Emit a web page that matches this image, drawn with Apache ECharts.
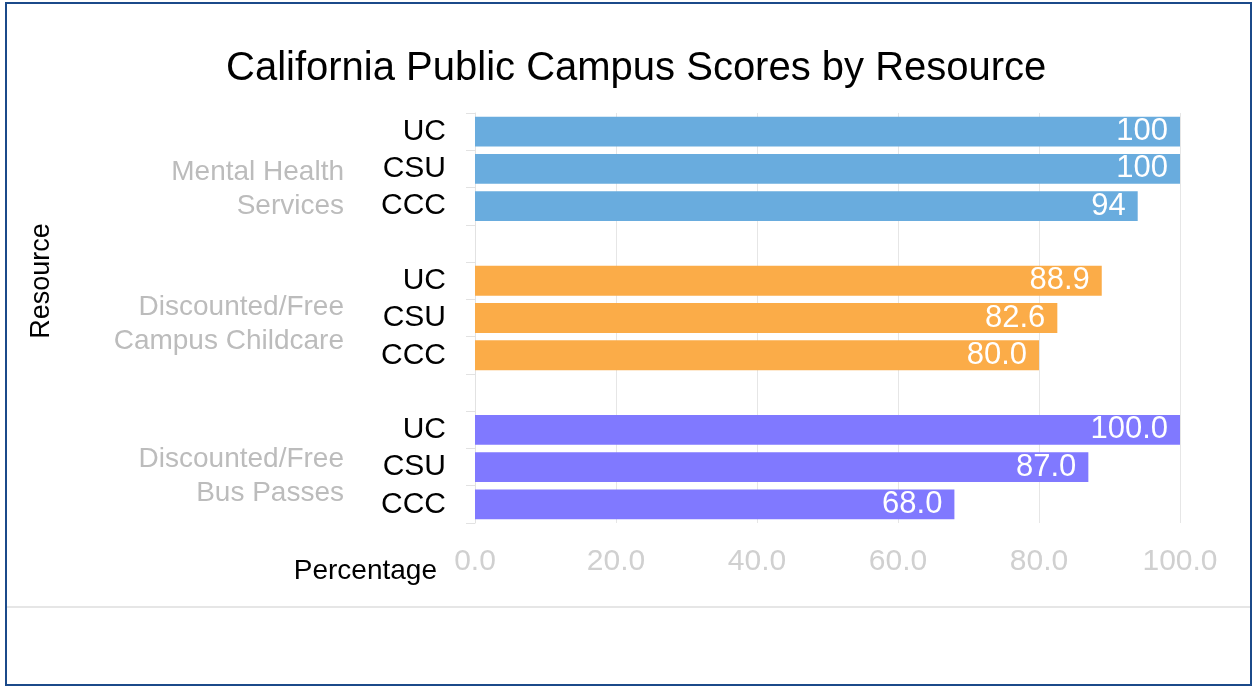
<!DOCTYPE html>
<html>
<head>
<meta charset="utf-8">
<script src="https://cdn.jsdelivr.net/npm/echarts@6/dist/echarts.min.js"></script>
<style>
  html, body { margin: 0; padding: 0; background: #fff; }
  #chart { position: absolute; left: 0; top: 0; width: 1252px; height: 686px; }
  #frame { position: absolute; left: 5px; top: 2px; width: 1247px; height: 684px; box-sizing: border-box;
           border: 2px solid #1b4a8a; pointer-events: none; }
</style>
</head>
<body>
<div id="chart"></div>
<div id="frame"></div>
<script>
// ---- data ----
const resources = ['Mental Health\nServices', 'Discounted/Free\nCampus Childcare', 'Discounted/Free\nBus Passes'];
const systems = ['UC', 'CSU', 'CCC'];
const mentalHealth = [100, 100, 94];
const childcare = [88.9, 82.6, 80.0];
const busPasses = [100.0, 87.0, 68.0];
const labelDecimals = [0, 1, 1];
const groupColors = ['#69acde', '#fbac48', '#8079ff'];

// ---- build category axis (with an empty spacer category between groups) ----
const groups = [mentalHealth, childcare, busPasses];
const categories = [];
const seriesData = [];
groups.forEach((vals, g) => {
  if (g > 0) { categories.push('gap' + g); seriesData.push(null); }
  systems.forEach((s, i) => {
    categories.push(g + '|' + s);
    seriesData.push({ value: vals[i], group: g, itemStyle: { color: groupColors[g] } });
  });
});
// group label positions on the category scale (layout only)
const groupLabelPos = [2.05, 5.68, 9.75];

const FONT = "'Liberation Sans', Arial, sans-serif";
const chart = echarts.init(document.getElementById('chart'));
chart.setOption({
  animation: false,
  textStyle: { fontFamily: FONT },
  title: {
    text: 'California Public Campus Scores by Resource',
    left: 221, top: 44,
    textStyle: { fontFamily: FONT, fontSize: 40, fontWeight: 'normal', color: '#000' }
  },
  grid: { left: 475, right: 72, top: 113, bottom: 163 },
  xAxis: {
    type: 'value', min: 0, max: 100, interval: 20,
    axisLine: { show: false }, axisTick: { show: false },
    splitLine: { show: true, lineStyle: { color: '#e6e6e6', width: 1 } },
    axisLabel: { fontFamily: FONT, fontSize: 30, color: '#d0d0d0', margin: 24,
                 formatter: v => v.toFixed(1) }
  },
  yAxis: [
    {
      type: 'category', data: categories, inverse: true,
      axisLine: { show: true, lineStyle: { color: '#e2e2e2', width: 1 } },
      axisTick: { show: true, length: 9, interval: 0, lineStyle: { color: '#e2e2e2' } },
      axisLabel: { fontFamily: FONT, fontSize: 30, color: '#000', margin: 29, interval: 0,
                   formatter: v => (v.indexOf('|') >= 0 ? v.split('|')[1] : '') }
    },
    {
      type: 'value', min: 0, max: categories.length, inverse: true, position: 'left',
      axisLine: { show: false }, axisTick: { show: false }, splitLine: { show: false },
      axisLabel: {
        customValues: groupLabelPos,
        fontFamily: FONT, fontSize: 28, lineHeight: 34, color: '#bcbcbc', margin: 131, align: 'right',
        formatter: v => { const k = groupLabelPos.indexOf(v); return k >= 0 ? resources[k] : ''; }
      }
    }
  ],
  series: [{
    type: 'bar', yAxisIndex: 0, data: seriesData, barCategoryGap: '20%',
    label: {
      show: true, position: 'insideRight', distance: 12, color: '#fff',
      fontFamily: FONT, fontSize: 31,
      formatter: p => p.data ? p.data.value.toFixed(labelDecimals[p.data.group]) : ''
    }
  }],
  graphic: [
    { type: 'text', x: 437, y: 571,
      style: { text: 'Percentage', font: '28px ' + FONT, fill: '#000', align: 'right', verticalAlign: 'middle' } },
    { type: 'text', x: 42, y: 281, rotation: Math.PI / 2,
      style: { text: 'Resource', font: '27px ' + FONT, fill: '#000', align: 'center', verticalAlign: 'middle' } },
    { type: 'line', shape: { x1: 6, y1: 607, x2: 1250, y2: 607 },
      style: { stroke: '#e6e6e6', lineWidth: 2 } }
  ]
});
</script>
</body>
</html>
